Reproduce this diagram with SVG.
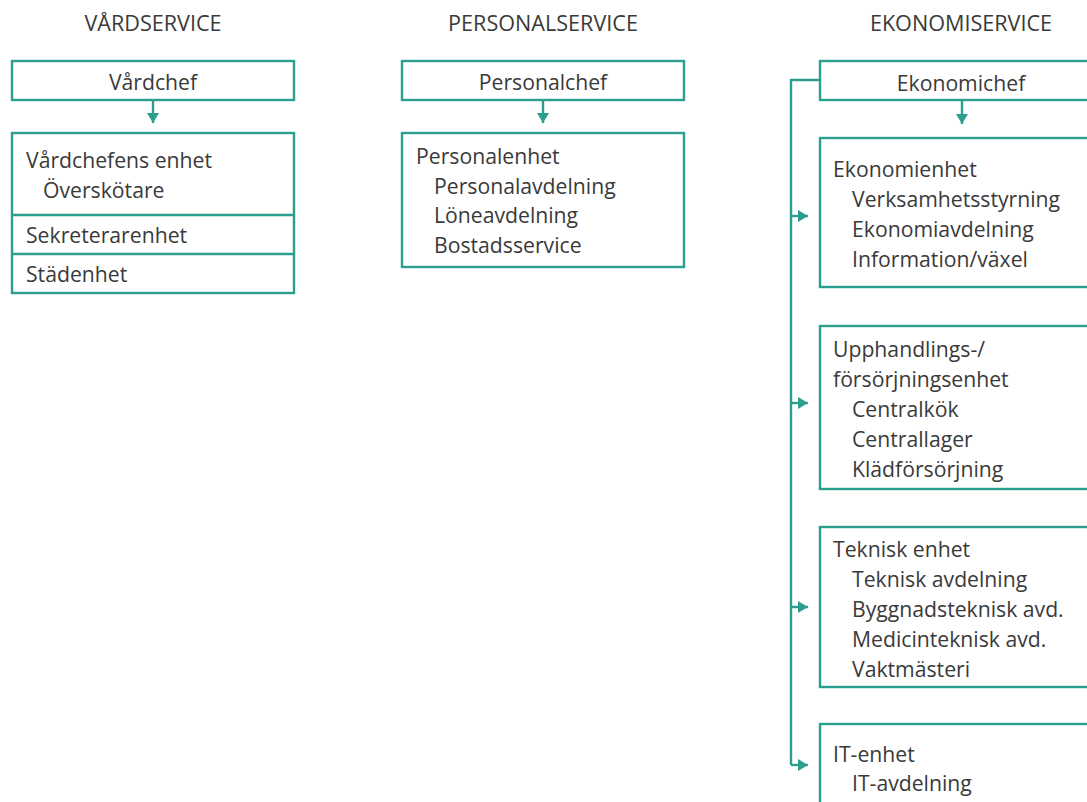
<svg xmlns="http://www.w3.org/2000/svg" width="1087" height="802" viewBox="0 0 1087 802">
<style>
  .bg { fill: #ffffff; }
  .box { fill: #ffffff; stroke: #2c9e8e; stroke-width: 2.4; }
  .div { stroke: #2c9e8e; stroke-width: 2.4; }
  .conn { fill: none; stroke: #2c9e8e; stroke-width: 2.4; }
  text { font-family: "Open Sans", "Liberation Sans", sans-serif; font-size: 21.2px; fill: #3a3a3a; }
  .title { font-size: 21.6px; text-anchor: middle; }
  .mid { text-anchor: middle; }
</style>
<defs>
  <marker id="ah" markerUnits="userSpaceOnUse" viewBox="0 0 10 12" refX="10" refY="6" markerWidth="10" markerHeight="12" orient="auto">
    <path d="M0,0 L10,6 L0,12 z" fill="#2c9e8e"/>
  </marker>
</defs>
<rect class="bg" x="0" y="0" width="1087" height="802"/>

<g id="titles">
  <text class="title" x="153" y="31">VÅRDSERVICE</text>
  <text class="title" x="543" y="31">PERSONALSERVICE</text>
  <text class="title" x="961" y="31">EKONOMISERVICE</text>
</g>

<g id="connectors">
  <path class="conn" d="M153,100 V123" marker-end="url(#ah)"/>
  <path class="conn" d="M543,100 V123" marker-end="url(#ah)"/>
  <path class="conn" d="M962,100 V124" marker-end="url(#ah)"/>
  <path class="conn" d="M820,80 H791 V765"/>
  <path class="conn" d="M791,216 H808" marker-end="url(#ah)"/>
  <path class="conn" d="M791,403 H808" marker-end="url(#ah)"/>
  <path class="conn" d="M791,607 H808" marker-end="url(#ah)"/>
  <path class="conn" d="M791,765 H808" marker-end="url(#ah)"/>
</g>

<g id="vardchef">
  <rect class="box" x="12" y="61" width="282" height="39"/>
  <text class="mid" x="153" y="90">Vårdchef</text>
</g>
<g id="vardenheter">
  <rect class="box" x="12" y="133" width="282" height="160"/>
  <line class="div" x1="12" y1="215" x2="294" y2="215"/>
  <line class="div" x1="12" y1="254" x2="294" y2="254"/>
  <text x="26" y="168">Vårdchefens enhet</text>
  <text x="43" y="198">Överskötare</text>
  <text x="26" y="243">Sekreterarenhet</text>
  <text x="26" y="282">Städenhet</text>
</g>

<g id="personalchef">
  <rect class="box" x="402" y="61" width="282" height="39"/>
  <text class="mid" x="543" y="90">Personalchef</text>
</g>
<g id="personalenhet">
  <rect class="box" x="402" y="133" width="282" height="134"/>
  <text x="416" y="164">Personalenhet</text>
  <text x="434" y="194">Personalavdelning</text>
  <text x="434" y="223">Löneavdelning</text>
  <text x="434" y="253">Bostadsservice</text>
</g>

<g id="ekonomichef">
  <rect class="box" x="820" y="61" width="282" height="39"/>
  <text class="mid" x="961" y="91">Ekonomichef</text>
</g>
<g id="ekonomienhet">
  <rect class="box" x="820" y="138" width="282" height="149"/>
  <text x="833" y="177">Ekonomienhet</text>
  <text x="852" y="207">Verksamhetsstyrning</text>
  <text x="852" y="237">Ekonomiavdelning</text>
  <text x="852" y="267">Information/växel</text>
</g>
<g id="upphandlingsenhet">
  <rect class="box" x="820" y="326" width="282" height="163"/>
  <text x="833" y="357">Upphandlings-/</text>
  <text x="833" y="387">försörjningsenhet</text>
  <text x="852" y="417">Centralkök</text>
  <text x="852" y="447">Centrallager</text>
  <text x="852" y="477">Klädförsörjning</text>
</g>
<g id="tekniskenhet">
  <rect class="box" x="820" y="527" width="282" height="160"/>
  <text x="833" y="557">Teknisk enhet</text>
  <text x="852" y="587">Teknisk avdelning</text>
  <text x="852" y="617">Byggnadsteknisk avd.</text>
  <text x="852" y="647">Medicinteknisk avd.</text>
  <text x="852" y="677">Vaktmästeri</text>
</g>
<g id="itenhet">
  <rect class="box" x="820" y="724" width="282" height="160"/>
  <text x="833" y="762">IT-enhet</text>
  <text x="852" y="791">IT-avdelning</text>
</g>
</svg>
